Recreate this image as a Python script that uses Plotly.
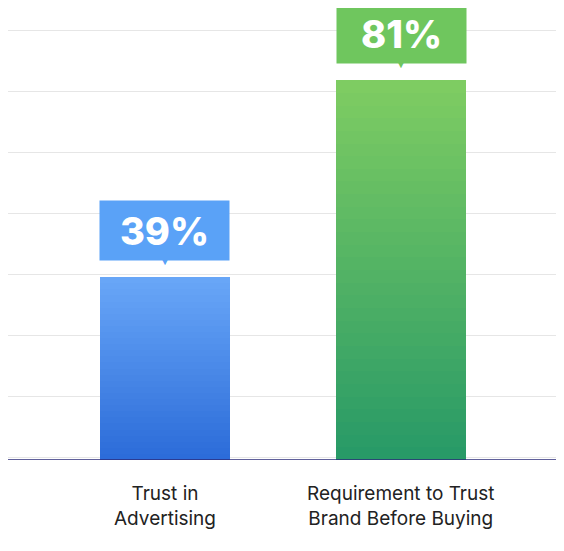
import plotly.graph_objects as go

# Data
categories = ["Trust in<br>Advertising", "Requirement to Trust<br>Brand Before Buying"]
values = [39, 81]
labels = ["39%", "81%"]

# Gradient colours (top, bottom) per bar
TOP_COLORS = [(104, 166, 247), (126, 204, 98)]
BOTTOM_COLORS = [(44, 108, 217), (40, 154, 103)]
BOX_COLORS = ["#5aa2f7", "#6fc65e"]
N_SEG = 30


def mix(c1, c2, t):
    return "rgb(%d,%d,%d)" % tuple(round(a + (b - a) * t) for a, b in zip(c1, c2))


fig = go.Figure()

# Stack thin slices of each bar to fake a vertical gradient
for i in range(N_SEG):
    t = i / (N_SEG - 1)
    fig.add_trace(
        go.Bar(
            x=[0, 1],
            y=[v / N_SEG for v in values],
            marker=dict(
                color=[mix(BOTTOM_COLORS[k], TOP_COLORS[k], t) for k in range(2)],
                line=dict(width=0),
            ),
            width=0.547,
            hoverinfo="skip",
            showlegend=False,
        )
    )

# Callout boxes
for k, (v, lab) in enumerate(zip(values, labels)):
    fig.add_annotation(
        x=k, y=v, yref="y", xref="x", text=lab, showarrow=False,
        yanchor="bottom", yshift=16, width=121, height=51, borderpad=4,
        bgcolor=BOX_COLORS[k],
        font=dict(family="Inter", size=38, color="white", weight=800),
    )
    fig.add_annotation(
        x=k, y=v, text="▼", showarrow=False, yanchor="bottom", yshift=6,
        font=dict(size=12, color=BOX_COLORS[k]),
    )

# Category labels
for k, c in enumerate(categories):
    fig.add_annotation(
        x=k, y=0, yref="y", text=c, showarrow=False, yanchor="top", yshift=-20,
        font=dict(family="Inter", size=19, color="#222222"),
    )

fig.update_layout(
    barmode="stack",
    bargap=0,
    width=556,
    height=545,
    margin=dict(l=0, r=6, t=0, b=93),
    plot_bgcolor="white",
    paper_bgcolor="white",
    xaxis=dict(range=[-0.665, 1.665], showticklabels=False, showgrid=False,
               zeroline=False),
    yaxis=dict(range=[0, 96.4], dtick=13, tick0=0.6, showticklabels=False,
               gridcolor="#e6e6e6", zeroline=False, showline=False),
    shapes=[dict(type="line", xref="paper", x0=0, x1=1, yref="y", y0=0, y1=0,
                 line=dict(color="#2b2b7a", width=1.5))],
)

fig.write_html("out.html")
